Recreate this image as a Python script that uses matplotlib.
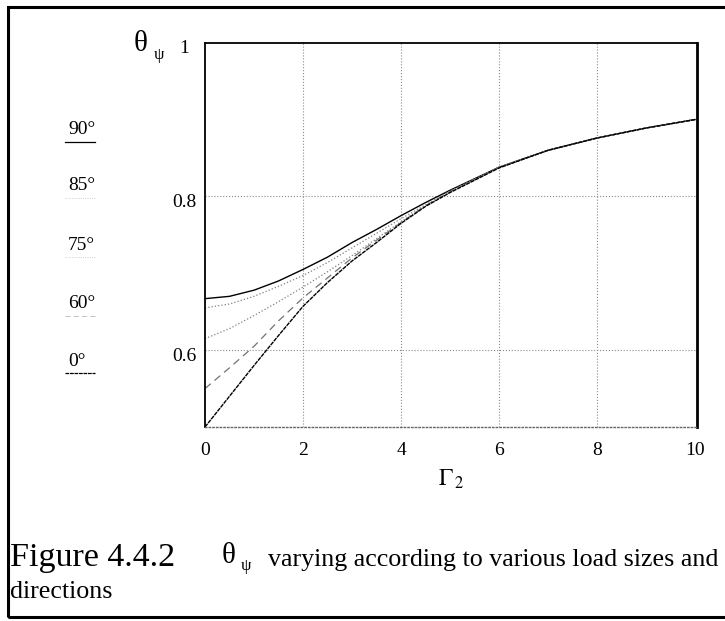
import numpy as np
import matplotlib
matplotlib.use("Agg")
import matplotlib.pyplot as plt
from matplotlib.lines import Line2D
from matplotlib.patches import Rectangle
import matplotlib.transforms as mtransforms

plt.rcParams['font.family'] = ['Liberation Serif', 'DejaVu Serif']
plt.rcParams['mathtext.fontset'] = 'stix'

# load size Gamma_2
gamma2 = [0, 0.5, 1, 1.5, 2, 2.5, 3, 3.5, 4, 4.5, 5, 6, 7, 8, 9, 10]

# theta_psi for each load direction
theta_90 = [0.667, 0.670, 0.678, 0.690, 0.705, 0.721, 0.740, 0.757, 0.775, 0.792, 0.808, 0.838, 0.860, 0.876, 0.889, 0.900]
theta_85 = [0.655, 0.660, 0.670, 0.683, 0.697, 0.714, 0.733, 0.752, 0.771, 0.789, 0.807, 0.838, 0.860, 0.876, 0.889, 0.900]
theta_75 = [0.615, 0.628, 0.645, 0.663, 0.682, 0.702, 0.723, 0.745, 0.767, 0.788, 0.806, 0.838, 0.860, 0.876, 0.889, 0.900]
theta_60 = [0.550, 0.577, 0.605, 0.638, 0.668, 0.694, 0.720, 0.743, 0.766, 0.788, 0.806, 0.838, 0.860, 0.876, 0.889, 0.900]
theta_0 = [0.500, 0.540, 0.580, 0.619, 0.657, 0.688, 0.716, 0.740, 0.765, 0.787, 0.805, 0.837, 0.860, 0.876, 0.889, 0.900]

angles = ['90°', '85°', '75°', '60°', '0°']
series = [theta_90, theta_85, theta_75, theta_60, theta_0]
styles = [('-', 'black', 1.0), (':', '0.5', 0.9), (':', '0.5', 0.9), ((0, (6, 4)), '0.45', 0.9), ((0, (3, 0.6)), 'black', 1.0)]

W, H = 725, 621
fig = plt.figure(figsize=(W / 100, H / 100), dpi=100)

def fx(x):
    return x / W

def fy(y):
    return 1 - y / H

ax = fig.add_axes([fx(205), fy(427), fx(697 - 205), (427 - 42.7) / H])

for ys, (ls, c, lw) in zip(series, styles):
    ax.plot(gamma2, ys, linestyle=ls, color=c, linewidth=lw)

ax.set_xlim(0, 10.04)
ax.set_ylim(0.5, 1.0)
ax.set_xticks([0, 2, 4, 6, 8, 10])
ax.set_xticklabels(['0', '2', '4', '6', '8', '10'])
ax.set_yticks([0.6, 0.8, 1.0])
ax.set_yticklabels(['0.6', '0.8', '1'])
ax.tick_params(axis='both', length=0, labelsize=14)
ax.tick_params(axis='x', pad=11)
ax.tick_params(axis='y', pad=15)
for lab in ax.get_yticklabels():
    lab.set_horizontalalignment('center')
    lab.set_transform(lab.get_transform() + mtransforms.ScaledTranslation(0, -4 / 100, fig.dpi_scale_trans))

# dotted grid, only inner lines
for gx in [2, 4, 6, 8]:
    ax.axvline(gx, color='0.55', linestyle=':', linewidth=0.8, zorder=0)
for gy in [0.6, 0.8]:
    ax.axhline(gy, color='0.55', linestyle=':', linewidth=0.8, zorder=0)

ax.spines['left'].set_linewidth(1.3)
ax.spines['top'].set_linewidth(1.3)
ax.spines['right'].set_linewidth(2.0)
ax.spines['bottom'].set_linestyle(':')
ax.spines['bottom'].set_color('0.4')
ax.spines['bottom'].set_linewidth(1.0)

ax.set_xlabel(r'$\Gamma_{\,2}$', fontsize=17, labelpad=6)

# y axis name, upright theta with psi subscript
fig.text(fx(134), fy(44), 'θ', fontsize=21, ha='left', va='center')
fig.text(fx(154), fy(55), 'ψ', fontsize=12, ha='left', va='center')

# legend: label above a line sample
leg_y = [130, 186, 245, 304, 361]
for lab, yy, (ls, c, lw) in zip(angles, leg_y, styles):
    fig.text(fx(68), fy(yy), lab, fontsize=14, ha='left', va='center')
    fig.add_artist(Line2D([fx(65), fx(95)], [fy(yy + 12), fy(yy + 12)], linestyle=ls,
                          color=c, linewidth=0.9 if c == 'black' else 0.6, alpha=1.0 if c == 'black' else 0.5))

# caption
fig.text(fx(10), fy(558), 'Figure 4.4.2', fontsize=24.5, ha='left', va='center')
fig.text(fx(222), fy(556), 'θ', fontsize=21, ha='left', va='center')
fig.text(fx(241), fy(566), 'ψ', fontsize=12, ha='left', va='center')
fig.text(fx(268), fy(560), 'varying according to various load sizes and', fontsize=18.7, ha='left', va='center')
fig.text(fx(10), fy(592), 'directions', fontsize=18.7, ha='left', va='center')

# outer frame
fig.add_artist(Rectangle((fx(8), fy(617)), fx(740), (617 - 7) / H, fill=False, edgecolor='black', linewidth=2.2))

fig.savefig('out.png', dpi=100)
